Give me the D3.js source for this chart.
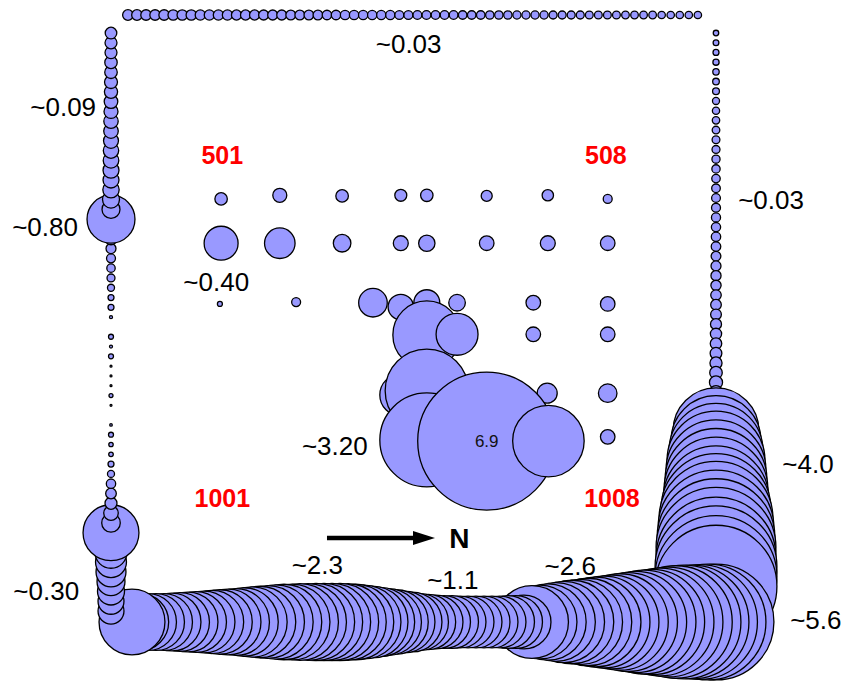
<!DOCTYPE html>
<html>
<head>
<meta charset="utf-8">
<script src="https://cdn.jsdelivr.net/npm/d3@7"></script>
<style>
  html, body { margin: 0; padding: 0; background: #fff; }
  svg { display: block; }
  text { font-family: "Liberation Sans", Arial, Helvetica, sans-serif; }
</style>
</head>
<body>
<svg id="chart" width="844" height="684"></svg>
<script>
// ---------------- DATA ----------------
// Perimeter transects (values, in drawing order, clockwise)
// top row, left -> right
const topRow = [
  0.041,0.041,0.040,0.040,0.040,0.039,0.039,0.039,0.038,0.038,0.038,0.038,0.037,0.037,0.037,0.036,
  0.036,0.036,0.035,0.035,0.034,0.034,0.033,0.033,0.032,0.032,0.031,0.031,0.030,0.030,0.029,0.029,
  0.028,0.028,0.027,0.027,0.027,0.026,0.026,0.026,0.025,0.025,0.025,0.024,0.024,0.024,0.024,0.023,
  0.023,0.023,0.023,0.022,0.022,0.022,0.022,0.021,0.021,0.021,0.021,0.020,0.020,0.020,0.020,0.020
];
// right column, top -> bottom
const rightColumn = [
  0.011,0.012,0.013,0.014,0.015,0.016,0.017,0.018,0.019,
  0.020,0.021,0.022,0.023,0.024,0.025,0.026,0.027,0.028,
  0.029,0.030,0.031,0.032,0.033,0.034,0.036,0.037,0.038,
  0.040,0.041,0.042,0.044,0.046,0.048,0.050,0.053,0.057,0.062,
  0.062,0.070,0.080,0.090,
  2.673,2.928,3.194,3.471,3.614,3.760,3.909,4.061,4.373,4.697,4.863,5.033,5.205,5.205,5.380,5.380,5.380
];
// bottom row, right -> left
const bottomRow = [
  4.863,4.863,4.780,4.697,4.697,4.583,4.373,4.216,4.015,3.909,
  3.716,3.542,3.373,3.194,3.059,2.928,2.774,2.624,2.526,2.383,
  2.244,2.110,1.979,1.926,1.054,1.015,1.015,0.977,0.977,0.977,
  0.977,0.977,0.977,1.015,1.015,1.054,1.109,1.174,1.301,1.389,
  1.508,1.622,1.741,1.874,1.979,2.066,2.121,2.165,2.165,2.165,
  2.165,2.143,2.143,2.088,2.066,2.001,1.926,1.853,1.791,1.701,
  1.622,1.574,1.508,1.453,1.389,1.345,1.301,1.258,1.216,1.174,
  1.174,1.174,1.191,1.574
];
// left column, bottom -> top
const leftColumn = [
  0.244,0.244,0.264,0.283,0.325,0.347,0.370,0.394,1.133,0.125,
  0.077,0.052,0.041,0.032,0.018,0.013,0.0076,0.0070,0.0090,0.0024,
  0,0.0014,0.0058,0.0014,0.0014,0.0014,0.0090,0.0033,0.0090,0,
  0.0033,0.013,0.013,0.018,0.023,0.0255,0.029,0.036,0.052,0.0925,
  0.833,0.117,0.1045,0.097,0.0925,0.0925,0.088,0.086,0.081,0.077,
  0.075,0.071,0.067,0.063,0.061,0.057,0.056,0.052,0.052,0.049
];

// Interior wells (map coordinates in metres, value)
const wellNames = [
  "501","502","503","504","505","506","507","508",
  "601","602","603","604","605","606","607","608",
  "701","702","703","704","705","706","707","708",
  "805","806","807","808",
  "904","905","907","908",
  "1005","1006","1007","1008"
];
const wellEasting = [
  18.2,27.9,38.2,47.9,52.2,62.1,72.2,82.1,
  18.2,27.9,38.2,47.9,52.2,62.1,72.2,82.1,
  18.0,30.6,43.3,47.9,52.2,57.2,69.8,82.1,
  52.2,57.2,69.8,82.1,
  47.9,52.2,72.1,82.1,
  52.2,62.1,72.3,82.1
];
const wellNorthing = [
  30.3,29.7,29.8,29.7,29.7,29.8,29.7,30.3,
  37.6,37.6,37.6,37.6,37.6,37.6,37.6,37.6,
  47.6,47.3,47.4,48.1,47.4,47.4,47.4,47.6,
  52.7,52.6,52.6,52.6,
  62.6,61.9,62.3,62.3,
  70.0,70.2,70.2,69.5
];
const wellValue = [
  0.056,0.071,0.057,0.052,0.056,0.044,0.047,0.029,
  0.418,0.338,0.112,0.081,0.097,0.077,0.081,0.077,
  0.009,0.029,0.296,0.233,0.244,0.100,0.077,0.077,
  1.671,0.638,0.077,0.077,
  0.638,2.514,0.145,0.125,
  3.200,6.900,1.853,0.077
];

// Annotations
const valueNotes = ["~0.03","~0.09","~0.80","~0.40","~0.03","~3.20","~4.0","~5.6","~0.30","~2.3","~1.1","~2.6"];
const valueNoteE = [49.2,-7.9,-10.9,17.4,109.1,37.0,115.2,116.5,-10.7,34.1,56.5,75.9];
const valueNoteN = [4.8,15.2,34.9,44.0,30.5,71.0,74.0,99.7,94.9,90.6,93.1,90.8];
const cornerLabels = ["501","508","1001","1008"];
const cornerLabelE = [18.4,81.8,18.4,82.8];
const cornerLabelN = [23.1,23.1,79.6,79.6];

// ---------------- SCALES ----------------
const svg = d3.select("#chart");
const x = d3.scaleLinear().domain([0, 100]).range([111, 716]);
const y = d3.scaleLinear().domain([0, 100]).range([15, 622]);
const r = d3.scaleSqrt().domain([0, 6.9]).range([0, 69]);

// transect extents in map units
function segment(values, e0, e1, n0, n1) {
  const t = d3.scaleLinear().domain([0, values.length - 1]);
  const es = t.copy().range([e0, e1]);
  const ns = t.copy().range([n0, n1]);
  return values.map((v, i) => ({ e: es(i), n: ns(i), v }));
}
const perimeter = [].concat(
  segment(topRow, 2.8, 97.0, 0, 0),
  segment(rightColumn, 100, 100, 2.97, 94.1),
  segment(bottomRow, 100, 3.47, 100, 100),
  segment(leftColumn, 0, 0, 98.2, 2.97)
).filter(d => d.v > 0);

const wells = wellNames.map((name, i) => ({
  name, e: wellEasting[i], n: wellNorthing[i], v: wellValue[i]
}));

const FILL = "#9999ff";
const SW = 1.3;

svg.append("g").selectAll("circle")
  .data(perimeter).join("circle")
  .attr("cx", d => x(d.e)).attr("cy", d => y(d.n)).attr("r", d => r(d.v))
  .attr("fill", FILL).attr("stroke", "#000").attr("stroke-width", SW);

svg.append("g").selectAll("circle")
  .data(wells).join("circle")
  .attr("cx", d => x(d.e)).attr("cy", d => y(d.n)).attr("r", d => r(d.v))
  .attr("fill", FILL).attr("stroke", "#000").attr("stroke-width", SW);

// max-value label
const maxWell = wells.reduce((a, b) => (b.v > a.v ? b : a));
svg.append("text")
  .attr("x", x(maxWell.e)).attr("y", y(maxWell.n)).attr("dy", "0.35em")
  .attr("text-anchor", "middle").attr("font-size", 17).attr("fill", "#111")
  .text(d3.format(".1f")(maxWell.v));

// value notes
svg.append("g").selectAll("text")
  .data(valueNotes).join("text")
  .attr("x", (d, i) => x(valueNoteE[i])).attr("y", (d, i) => y(valueNoteN[i]))
  .attr("dy", "0.35em").attr("text-anchor", "middle")
  .attr("font-size", 26).attr("fill", "#000")
  .text(d => d);

// corner well labels
svg.append("g").selectAll("text")
  .data(cornerLabels).join("text")
  .attr("x", (d, i) => x(cornerLabelE[i])).attr("y", (d, i) => y(cornerLabelN[i]))
  .attr("dy", "0.35em").attr("text-anchor", "middle")
  .attr("font-size", 25).attr("font-weight", "bold").attr("fill", "#ff0000")
  .text(d => d);

// north arrow
const ay = y(86.16);
const ax0 = x(35.7), ax1 = x(53.55);
svg.append("line")
  .attr("x1", ax0).attr("y1", ay).attr("x2", ax1 - 16).attr("y2", ay)
  .attr("stroke", "#000").attr("stroke-width", 4.5);
svg.append("path")
  .attr("d", `M${ax1},${ay} L${ax1 - 22},${ay - 7} L${ax1 - 22},${ay + 7} Z`)
  .attr("fill", "#000");
svg.append("text")
  .attr("x", x(57.6)).attr("y", ay).attr("dy", "0.35em")
  .attr("text-anchor", "middle").attr("font-size", 28).attr("font-weight", "bold")
  .text("N");
</script>
</body>
</html>
